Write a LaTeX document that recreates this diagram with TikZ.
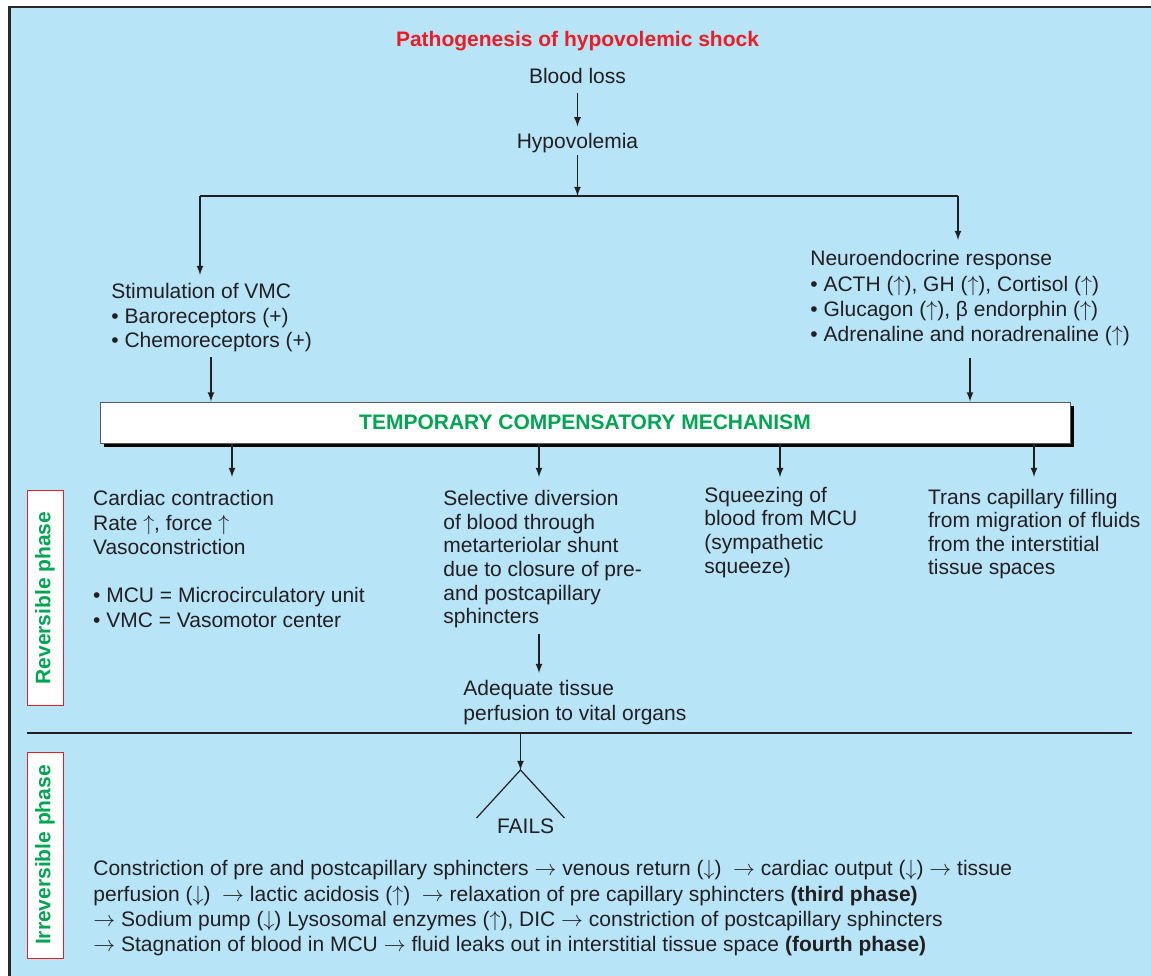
\documentclass[tikz,border=0pt]{standalone}
\usepackage{fontspec}
\setmainfont{Liberation Sans}
\usepackage{tikz}
\usetikzlibrary{arrows,positioning,shadows}

\definecolor{bgblue}{RGB}{184,228,248}
\definecolor{titlered}{RGB}{237,28,36}
\definecolor{mechgreen}{RGB}{0,166,81}
\definecolor{textdark}{RGB}{35,31,32}
\definecolor{framegray}{RGB}{40,40,40}
\definecolor{boxgray}{RGB}{90,90,90}

\begin{document}
\begin{tikzpicture}[
  x=0.5pt, y=-0.5pt,
  every node/.style={font=\fontsize{10.5}{12.2}\selectfont, text=textdark, inner sep=0pt},
  txt/.style={anchor=north west, align=left},
  head/.style={anchor=base, font=\fontsize{10.5}{12.2}\selectfont\bfseries, text=titlered},
  mech/.style={draw=boxgray, fill=white, line width=0.5pt, minimum width=485pt, minimum height=20.5pt,
    font=\fontsize{10.5}{12.2}\selectfont\bfseries, text=mechgreen,
    drop shadow={shadow xshift=1.75pt, shadow yshift=-2pt, fill=black, opacity=1}},
  phase/.style={draw=titlered, fill=white, line width=0.5pt, rotate=90, minimum height=18pt,
    font=\fontsize{10.5}{12.2}\selectfont\bfseries, text=mechgreen},
  arrow/.style={->, >=latex, line width=0.6pt, draw=textdark},
  line/.style={line width=0.6pt, draw=textdark}
]
\useasboundingbox (0,0) rectangle (1151,975);
\clip (0,0) rectangle (1151,975);

% Frame
\draw[line width=1.25pt, draw=framegray, fill=bgblue] (9.5,7) rectangle (1180,1000);

% Top chain
\node[head] (title) at (577.5,46) {Pathogenesis of hypovolemic shock};
\node[anchor=base] (blood) at (577.5,83) {Blood loss};
\node[anchor=base] (hypo) at (577.5,148) {Hypovolemia};
\draw[arrow, shorten <=4.5pt, shorten >=3pt] (blood) -- (hypo);

% Split
\coordinate (split) at (577.5,196);
\coordinate (lsplit) at (200,196);
\coordinate (rsplit) at (958,196);
\draw[arrow, shorten <=1.3pt] (hypo) -- (split);
\draw[line] (lsplit) -- (rsplit);

% Left branch
\node[txt] (stim) at (111,283) {Stimulation of VMC\\
  \textbullet{} Baroreceptors (+)\\
  \textbullet{} Chemoreceptors (+)};
\draw[arrow, shorten >=4pt] (lsplit) -- (lsplit |- stim.north);

% Right branch
\node[txt, font=\fontsize{10.5}{12.7}\selectfont] (neuro) at (810,250) {Neuroendocrine response\\
  \textbullet{} ACTH ($\uparrow$), GH ($\uparrow$), Cortisol ($\uparrow$)\\
  \textbullet{} Glucagon ($\uparrow$), β endorphin ($\uparrow$)\\
  \textbullet{} Adrenaline and noradrenaline ($\uparrow$)};
\draw[arrow, shorten >=5pt] (rsplit) -- (rsplit |- neuro.north);

% Compensation
\node[mech] (tcm) at (585,422.5) {TEMPORARY COMPENSATORY MECHANISM};
\draw[arrow, shorten <=2.3pt] (stim.south -| 211,0) -- (211,0 |- tcm.north);
\draw[arrow, shorten <=5.5pt] (neuro.south -| 970,0) -- (970,0 |- tcm.north);

% Reversible phase
\node[txt] (cardiac) at (92.7,490) {Cardiac contraction\\
  Rate $\uparrow$, force $\uparrow$\\
  Vasoconstriction};
\node[txt] (abbrev) at (92.7,587) {\textbullet{} MCU = Microcirculatory unit\\
  \textbullet{} VMC = Vasomotor center};
\node[txt, font=\fontsize{10.5}{11.8}\selectfont] (selective) at (443,490) {Selective diversion\\
  of blood through\\
  metarteriolar shunt\\
  due to closure of pre-\\
  and postcapillary\\
  sphincters};
\node[txt] (adequate) at (463,680) {Adequate tissue\\perfusion to vital organs};
\node[txt, font=\fontsize{10.5}{11.8}\selectfont] (squeeze) at (704,486.7) {Squeezing of\\
  blood from MCU\\
  (sympathetic\\
  squeeze)};
\node[txt, font=\fontsize{10.5}{11.6}\selectfont] (trans) at (927.7,489) {Trans capillary filling\\
  from migration of fluids\\
  from the interstitial\\
  tissue spaces};

\draw[arrow, shorten >=6.5pt] (tcm.south -| 232,0) -- (232,0 |- cardiac.north);
\draw[arrow, shorten >=6.5pt] (tcm.south -| 539,0) -- (539,0 |- selective.north);
\draw[arrow, shorten >=4.8pt] (tcm.south -| 780,0) -- (780,0 |- squeeze.north);
\draw[arrow, shorten >=6pt] (tcm.south -| 1034,0) -- (1034,0 |- trans.north);
\draw[arrow, shorten <=2.7pt, shorten >=3.5pt] (selective.south -| 539,0) -- (539,0 |- adequate.north);

\node[phase, minimum width=107.5pt] (rev) at (45,598) {Reversible phase};

% Separator and failure
\coordinate (sepL) at (27,733);
\coordinate (sepR) at (1132,733);
\draw[line] (sepL) -- (sepR);
\coordinate (sepmid) at (520.5,733);
\coordinate (fork) at (520.5,770);
\coordinate (forkL) at (476.5,818);
\coordinate (forkR) at (564.5,818);
\draw[arrow] (sepmid) -- (fork);
\draw[line] (forkL) -- (fork) -- (forkR);
\node[anchor=base] (fails) at (525.6,833) {FAILS};

% Irreversible phase
\node[phase, minimum width=103pt] (irrev) at (45,855) {Irreversible phase};
\node[txt, font=\fontsize{10.5}{12.7}\selectfont] (cascade) at (93,860) {Constriction of pre and postcapillary sphincters $\rightarrow$ venous return ($\downarrow$) \ $\rightarrow$ cardiac output ($\downarrow$) $\rightarrow$ tissue\\
  perfusion ($\downarrow$) \ $\rightarrow$ lactic acidosis ($\uparrow$) \ $\rightarrow$ relaxation of pre capillary sphincters \textbf{(third phase)}\\
  $\rightarrow$ Sodium pump ($\downarrow$) Lysosomal enzymes ($\uparrow$), DIC $\rightarrow$ constriction of postcapillary sphincters\\
  $\rightarrow$ Stagnation of blood in MCU $\rightarrow$ fluid leaks out in interstitial tissue space \textbf{(fourth phase)}};

\end{tikzpicture}
\end{document}
